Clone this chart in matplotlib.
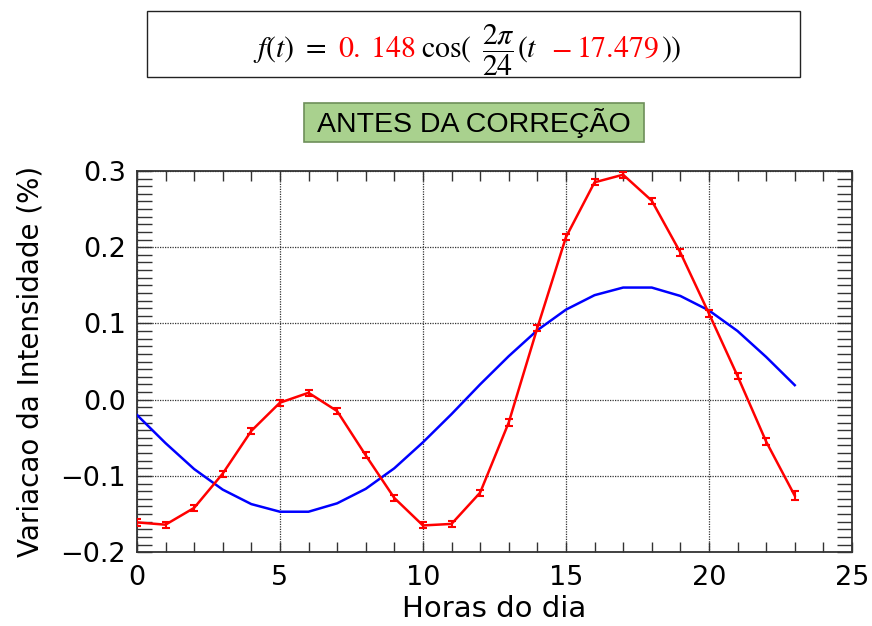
import numpy as np
import matplotlib.pyplot as plt
from matplotlib.ticker import MultipleLocator
from matplotlib.patches import Rectangle

plt.rcParams['mathtext.fontset'] = 'stix'

# Horas do dia
horas = np.arange(24)

# Variacao medida (%) e incerteza de cada ponto
variacao = [-0.161, -0.164, -0.142, -0.097, -0.041, -0.004, 0.009, -0.015,
            -0.073, -0.129, -0.165, -0.163, -0.122, -0.030, 0.094, 0.213,
            0.285, 0.295, 0.261, 0.193, 0.113, 0.031, -0.055, -0.126]
erro = [0.005, 0.004, 0.004, 0.004, 0.004, 0.004, 0.004, 0.004,
        0.004, 0.004, 0.004, 0.004, 0.004, 0.004, 0.004, 0.004,
        0.004, 0.004, 0.004, 0.004, 0.004, 0.004, 0.005, 0.006]

# Curva ajustada (cosseno de periodo 24 h)
ajuste = [-0.020, -0.057, -0.091, -0.118, -0.137, -0.147, -0.147, -0.136,
          -0.117, -0.090, -0.056, -0.019, 0.020, 0.057, 0.091, 0.118,
          0.137, 0.147, 0.147, 0.136, 0.117, 0.090, 0.056, 0.019]

fig = plt.figure(figsize=(8.72, 6.26), dpi=100)
ax = fig.add_axes([0.157, 0.118, 0.820, 0.609])

ax.plot(horas, ajuste, color='#0000ff', lw=1.8, zorder=3)
ax.errorbar(horas, variacao, yerr=erro, color='#ff0000', lw=1.8,
            elinewidth=1.5, capsize=3, capthick=1.5, zorder=4)

ax.set_xlim(0, 25)
ax.set_ylim(-0.2, 0.3)
ax.xaxis.set_major_locator(MultipleLocator(5))
ax.xaxis.set_minor_locator(MultipleLocator(1))
ax.yaxis.set_major_locator(MultipleLocator(0.1))
ax.yaxis.set_minor_locator(MultipleLocator(0.01))
ax.grid(True, which='major', linestyle=(0, (1, 1)), color='#333333', lw=0.9)

ax.tick_params(which='both', direction='in', top=True, right=True,
               color='#333333', labelsize=19.5)
ax.tick_params(axis='x', which='major', length=7, width=1, pad=9)
ax.tick_params(axis='x', which='minor', length=7, width=1)
ax.tick_params(axis='y', which='major', length=11, width=1, pad=8)
ax.tick_params(axis='y', which='minor', length=11, width=1)
for sp in ax.spines.values():
    sp.set_color('#333333')
    sp.set_linewidth(1.3)

ax.set_xlabel('Horas do dia', fontsize=21, labelpad=3)
ax.set_ylabel('Variacao da Intensidade (%)', fontsize=20, labelpad=11)

# Caixa verde com o titulo
fig.patches.append(Rectangle((0.349, 0.773), 0.390, 0.062, transform=fig.transFigure,
                             facecolor='#a9d18e', edgecolor='#6e8f5a', lw=1.2))
fig.text(0.544, 0.803, 'ANTES DA CORREÇÃO', fontsize=20.5, ha='center', va='center',
         family='Liberation Sans')

# Caixa da equacao
fig.patches.append(Rectangle((0.169, 0.877), 0.748, 0.105, transform=fig.transFigure,
                             facecolor='white', edgecolor='#222222', lw=1.0))

# pedacos da equacao: (texto, cor, espaco em pixels depois do pedaco)
partes = [(r'$f(t)\ =$', 'black', 12),
          (r'$0.\;148$', '#ff0000', 5),
          (r'$\cos($', 'black', 10),
          (r'$\dfrac{2\pi}{24}$', 'black', 2),
          (r'$(t$', 'black', 13),
          (r'$-$', '#ff0000', 5),
          (r'$17.479$', '#ff0000', 2),
          (r'$))$', 'black', 0)]

renderer = fig.canvas.get_renderer()
textos = []
x = 0.0
for txt, cor, espaco in partes:
    t = fig.text(x, 0.909, txt, color=cor, fontsize=21.5, va='baseline', ha='left')
    bb = t.get_window_extent(renderer).transformed(fig.transFigure.inverted())
    textos.append(t)
    x = bb.x1 + espaco / fig.bbox.width
desloc = 0.536 - x / 2
for t in textos:
    px, py = t.get_position()
    t.set_position((px + desloc, py))

fig.savefig('out.png', dpi=100)
